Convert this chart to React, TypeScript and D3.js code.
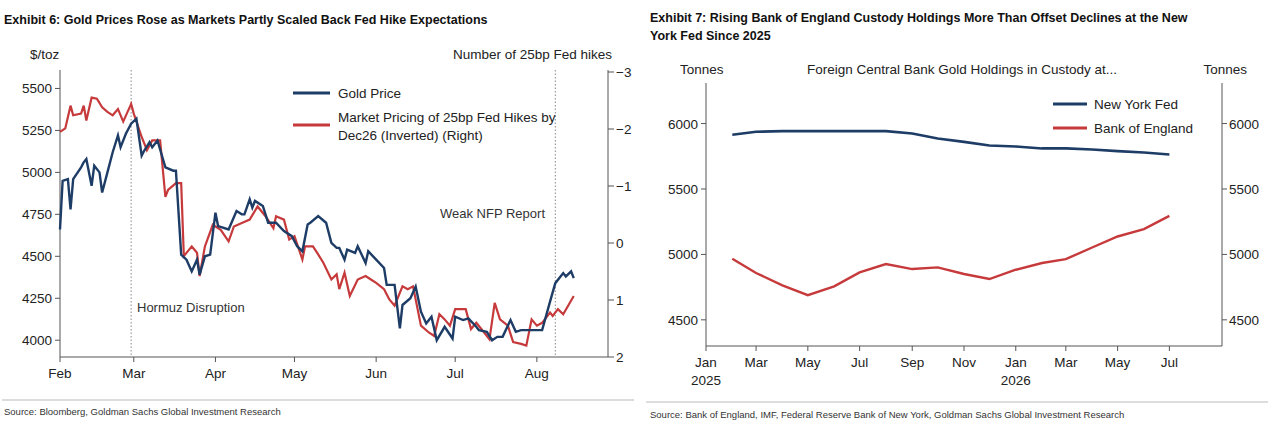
import React from "react";
import * as d3 from "d3";

// Exhibit 6 data: day offsets from 2026-02-01
const goldDays = [0,1,3,4,5,8,9,10,12,13,15,16,18,20,22,23,25,27,29,31,32,34,35,37,40,43,44,46,48,50,52,53,55,57,59,60,64,67,69,70,72,73,74,77,79,82,85,88,90,92,94,95,98,101,103,105,106,108,109,112,113,116,117,120,123,124,127,128,129,130,133,135,137,139,141,143,146,149,150,153,155,158,159,162,164,166,168,171,173,175,178,180,183,186,188,191,192,194,195];
const goldValues = [4660,4950,4960,4780,4960,5030,5060,5080,4920,5040,5000,4880,5000,5120,5220,5150,5230,5290,5320,5100,5130,5180,5150,5190,5030,5010,5010,4510,4480,4410,4480,4390,4500,4510,4760,4680,4660,4770,4750,4750,4840,4790,4830,4800,4700,4700,4650,4620,4560,4530,4690,4700,4740,4700,4580,4550,4550,4480,4540,4520,4560,4460,4530,4480,4430,4330,4330,4200,4070,4210,4250,4320,4170,4100,4140,4000,4080,4010,4140,4120,4130,4080,4060,4050,4000,4020,4020,4120,4050,4060,4060,4060,4060,4230,4340,4400,4380,4410,4370];
const hikeDays = [0,2,4,5,8,9,10,12,14,16,18,20,22,24,27,28,31,33,35,38,40,41,44,46,47,50,52,53,55,58,61,64,66,69,72,75,78,81,82,85,87,89,92,93,96,98,100,103,105,106,108,110,113,116,118,120,123,125,127,130,132,134,137,140,142,144,146,148,150,154,156,158,161,163,165,167,170,172,175,177,179,181,183,186,187,189,191,195];
const hikeValues = [-1.95,-2.01,-2.41,-2.24,-2.27,-2.41,-2.15,-2.55,-2.53,-2.38,-2.30,-2.24,-2.35,-2.13,-2.44,-2.27,-1.86,-1.63,-1.80,-1.80,-0.81,-0.93,-1.05,-1.05,0.23,0.06,0.17,0.58,0.06,-0.32,-0.23,-0.03,-0.29,-0.35,-0.41,-0.64,-0.47,-0.26,-0.47,-0.41,-0.06,-0.12,0.29,0.06,0.06,0.20,0.35,0.64,0.55,0.81,0.52,0.93,0.64,0.58,0.64,0.70,0.81,0.99,1.10,0.76,0.81,0.76,1.45,1.57,1.63,1.25,1.34,1.45,1.16,1.16,1.51,1.40,1.57,1.69,1.05,1.34,1.45,1.74,1.77,1.80,1.34,1.45,1.40,1.22,1.28,1.16,1.25,0.93];
const leftTicks = [4000,4250,4500,4750,5000,5250,5500];
const rightTicks = [-3,-2,-1,0,1,2];
const monthLabels = ["Feb","Mar","Apr","May","Jun","Jul","Aug"];

// Exhibit 7 data: monthly, Feb 2025 .. Jul 2026
const custodyMonths = d3.timeMonths(new Date(2025,1,1), new Date(2026,6,2));
const nyFed = [5914,5937,5942,5942,5942,5942,5942,5924,5886,5860,5832,5825,5810,5810,5802,5789,5779,5764];
const boe = [4967,4858,4764,4688,4756,4863,4926,4888,4901,4850,4812,4883,4934,4964,5053,5137,5193,5294];
const custodyTicks = [4500,5000,5500,6000];

const NAVY = "#1d3c66";
const RED = "#c63a3c";
const AX = "#555";
const FONT = "'Liberation Sans', Arial, sans-serif";
const FS = 13.5;

function Left() {
  const base = new Date(2026,1,1);
  const x = d3.scaleTime().domain([base, new Date(2026,7,28)]).range([60,608]);
  const yL = d3.scaleLinear().domain([3900,5610]).range([357,70]);
  const yR = d3.scaleLinear().domain([-3,2]).range([72,357]);
  const gold = goldDays.map((d,i)=>[d3.timeDay.offset(base,d), goldValues[i]] as [Date,number]);
  const hikes = hikeDays.map((d,i)=>[d3.timeDay.offset(base,d), hikeValues[i]] as [Date,number]);
  const gL = d3.line<[Date,number]>().x(d=>x(d[0])).y(d=>yL(d[1]));
  const hL = d3.line<[Date,number]>().x(d=>x(d[0])).y(d=>yR(d[1]));
  const months = monthLabels.map((m,i)=>new Date(2026,1+i,1));
  const v1 = x(new Date(2026,1,28)), v2 = x(new Date(2026,7,8));
  return <g fontFamily={FONT}>
    <text x={4} y={24} fontSize={12.5} fontWeight="bold" fill="#111">Exhibit 6: Gold Prices Rose as Markets Partly Scaled Back Fed Hike Expectations</text>
    <text x={30} y={59} fontSize={FS} fill="#222">$/toz</text>
    <text x={612} y={59} fontSize={FS} fill="#222" textAnchor="end">Number of 25bp Fed hikes</text>
    <line x1={v1} x2={v1} y1={70} y2={357} stroke="#888" strokeDasharray="1.5,2"/>
    <line x1={v2} x2={v2} y1={70} y2={357} stroke="#888" strokeDasharray="1.5,2"/>
    <line x1={60} x2={60} y1={70} y2={357} stroke={AX}/>
    <line x1={608} x2={608} y1={70} y2={357} stroke={AX}/>
    <line x1={60} x2={608} y1={357} y2={357} stroke={AX}/>
    {leftTicks.map(t=><g key={t}><line x1={55} x2={60} y1={yL(t)} y2={yL(t)} stroke={AX}/><text x={52} y={yL(t)+5} fontSize={FS} textAnchor="end" fill="#222">{t}</text></g>)}
    {rightTicks.map(t=><g key={t}><line x1={608} x2={614} y1={yR(t)} y2={yR(t)} stroke={AX}/><text x={616} y={yR(t)+5} fontSize={FS} fill="#222">{t<0?"\u2212"+(-t):t}</text></g>)}
    {months.map((m,i)=><g key={i}><line x1={x(m)} x2={x(m)} y1={357} y2={362} stroke={AX}/><text x={x(m)} y={378} fontSize={FS} textAnchor="middle" fill="#222">{monthLabels[i]}</text></g>)}
    <path d={hL(hikes)!} fill="none" stroke={RED} strokeWidth={2.2}/>
    <path d={gL(gold)!} fill="none" stroke={NAVY} strokeWidth={2.4}/>
    <text x={137} y={312} fontSize={13} fill="#333">Hormuz Disruption</text>
    <text x={545} y={218} fontSize={13} fill="#333" textAnchor="end">Weak NFP Report</text>
    <line x1={293} x2={330} y1={93} y2={93} stroke={NAVY} strokeWidth={3}/>
    <text x={338} y={98} fontSize={FS} fill="#222">Gold Price</text>
    <line x1={293} x2={330} y1={125} y2={125} stroke={RED} strokeWidth={3}/>
    <text x={338} y={122} fontSize={FS} fill="#222">Market Pricing of 25bp Fed Hikes by</text>
    <text x={338} y={140} fontSize={FS} fill="#222">Dec26 (Inverted) (Right)</text>
    <line x1={2} x2={634} y1={400} y2={400} stroke="#bbb"/>
    <text x={4} y={415} fontSize={9.5} fill="#333">Source: Bloomberg, Goldman Sachs Global Investment Research</text>
  </g>;
}

function Right() {
  const x = d3.scaleTime().domain([new Date(2025,0,1), new Date(2026,8,1)]).range([706,1222]);
  const y = d3.scaleLinear().domain([4300,6310]).range([346,83]);
  const line = d3.line<number>().x((_,i)=>x(custodyMonths[i])).y(d=>y(d));
  const ticks = d3.timeMonth.every(2)!.range(new Date(2025,0,1), new Date(2026,7,1));
  const fmt = d3.timeFormat("%b");
  return <g fontFamily={FONT}>
    <text x={650} y={22} fontSize={12.5} fontWeight="bold" fill="#111">Exhibit 7: Rising Bank of England Custody Holdings More Than Offset Declines at the New</text>
    <text x={650} y={40} fontSize={12.5} fontWeight="bold" fill="#111">York Fed Since 2025</text>
    <text x={680} y={74} fontSize={FS} fill="#222">Tonnes</text>
    <text x={962} y={74} fontSize={FS} fill="#222" textAnchor="middle">Foreign Central Bank Gold Holdings in Custody at...</text>
    <text x={1247} y={74} fontSize={FS} fill="#222" textAnchor="end">Tonnes</text>
    <line x1={706} x2={706} y1={83} y2={346} stroke={AX}/>
    <line x1={1222} x2={1222} y1={83} y2={346} stroke={AX}/>
    <line x1={706} x2={1222} y1={346} y2={346} stroke={AX}/>
    {custodyTicks.map(t=><g key={t}>
      <line x1={701} x2={706} y1={y(t)} y2={y(t)} stroke={AX}/>
      <text x={698} y={y(t)+5} fontSize={FS} textAnchor="end" fill="#222">{t}</text>
      <line x1={1222} x2={1227} y1={y(t)} y2={y(t)} stroke={AX}/>
      <text x={1229} y={y(t)+5} fontSize={FS} fill="#222">{t}</text>
    </g>)}
    {ticks.map((m,i)=><g key={i}>
      <line x1={x(m)} x2={x(m)} y1={346} y2={351} stroke={AX}/>
      <text x={x(m)} y={367} fontSize={FS} textAnchor="middle" fill="#222">{fmt(m)}</text>
      {m.getMonth()===0 && <text x={x(m)} y={385} fontSize={FS} textAnchor="middle" fill="#222">{m.getFullYear()}</text>}
    </g>)}
    <path d={line(nyFed)!} fill="none" stroke={NAVY} strokeWidth={2.6}/>
    <path d={line(boe)!} fill="none" stroke={RED} strokeWidth={2.4}/>
    <line x1={1053} x2={1087} y1={104} y2={104} stroke={NAVY} strokeWidth={3}/>
    <text x={1094} y={109} fontSize={FS} fill="#222">New York Fed</text>
    <line x1={1053} x2={1087} y1={128} y2={128} stroke={RED} strokeWidth={3}/>
    <text x={1094} y={133} fontSize={FS} fill="#222">Bank of England</text>
    <line x1={646} x2={1268} y1={402} y2={402} stroke="#bbb"/>
    <text x={650} y={418} fontSize={9.5} fill="#333">Source: Bank of England, IMF, Federal Reserve Bank of New York, Goldman Sachs Global Investment Research</text>
  </g>;
}

export default function App() {
  return <svg width={1270} height={424} style={{display:"block", position:"absolute", left:0, top:0}}>
    <rect width={1270} height={424} fill="#fff"/>
    <Left/>
    <Right/>
  </svg>;
}
